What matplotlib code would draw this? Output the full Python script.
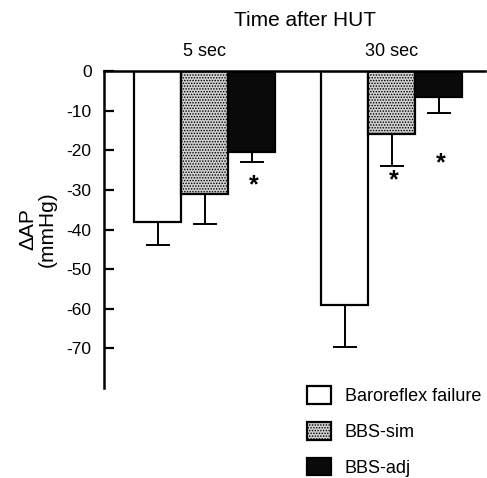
import numpy as np
import matplotlib
matplotlib.use("Agg")
import matplotlib.pyplot as plt
from matplotlib.patches import Patch

plt.rcParams['font.family'] = ['Liberation Sans', 'DejaVu Sans']
plt.rcParams['axes.unicode_minus'] = False
plt.rcParams['hatch.color'] = '#444444'
plt.rcParams['hatch.linewidth'] = 0.7

# Change in arterial pressure after head-up tilt
groups = ['5 sec', '30 sec']
series = ['Baroreflex failure', 'BBS-sim', 'BBS-adj']
means = {
    'Baroreflex failure': [-38.0, -59.0],
    'BBS-sim': [-31.0, -16.0],
    'BBS-adj': [-20.5, -6.5],
}
errs = {
    'Baroreflex failure': [6.0, 10.5],
    'BBS-sim': [7.5, 8.0],
    'BBS-adj': [2.5, 4.0],
}
# significance markers: (group index, series, y)
stars = [(0, 'BBS-adj', -28.8), (1, 'BBS-sim', -27.5), (1, 'BBS-adj', -23.3)]

styles = {
    'Baroreflex failure': dict(facecolor='white', hatch=None),
    'BBS-sim': dict(facecolor='#cfcfcf', hatch='......'),
    'BBS-adj': dict(facecolor='#0a0a0a', hatch=None),
}

group_x = np.array([2.1, 6.0])
offsets = {'Baroreflex failure': -0.98, 'BBS-sim': 0.0, 'BBS-adj': 0.98}
width = 0.98

fig = plt.figure(figsize=(4.87, 4.78), dpi=100)
ax = fig.add_axes([0.2136, 0.188, 0.782, 0.6635])

for s in series:
    x = group_x + offsets[s]
    ax.bar(x, means[s], width=width, color=styles[s]['facecolor'],
           hatch=styles[s]['hatch'], edgecolor='black', linewidth=1.6, zorder=2)
    # downward-only error bars
    lower = np.array(errs[s])
    ax.errorbar(x, means[s], yerr=[lower, np.zeros_like(lower)], fmt='none',
                ecolor='black', elinewidth=1.4, capsize=8.5, capthick=1.4, zorder=3)

for gi, s, y in stars:
    ax.text(group_x[gi] + offsets[s] + 0.05, y, '*', ha='center', va='center',
            fontsize=18, fontweight='bold')

for gx, g in zip(group_x, groups):
    ax.text(gx, 1.035, g, transform=ax.get_xaxis_transform(), ha='center',
            va='bottom', fontsize=13)

fig.text(0.627, 0.958, 'Time after HUT', ha='center', va='center', fontsize=15)

ax.set_xlim(0, 7.94)
ax.set_ylim(-80, 0)
ax.set_yticks(np.arange(-70, 1, 10))
ax.set_xticks([])
ax.spines['bottom'].set_visible(False)
ax.spines['right'].set_visible(False)
ax.spines['top'].set_linewidth(1.8)
ax.spines['left'].set_linewidth(1.8)
ax.tick_params(axis='y', direction='in', length=7, width=1.6, labelsize=12.5, pad=9)

ax.set_ylabel('\u0394AP\n(mmHg)', fontsize=15, linespacing=1.0)
ax.yaxis.set_label_coords(-0.125, 0.5)

handles = [Patch(facecolor=styles[s]['facecolor'], hatch=styles[s]['hatch'],
                 edgecolor='black', linewidth=1.6) for s in series]
fig.legend(handles, series, loc='upper left', bbox_to_anchor=(0.630, 0.192),
           frameon=False, fontsize=13, handlelength=1.33, handleheight=1.1,
           handletextpad=0.78, labelspacing=0.95, borderpad=0, borderaxespad=0)

fig.savefig('out.png', dpi=100)
